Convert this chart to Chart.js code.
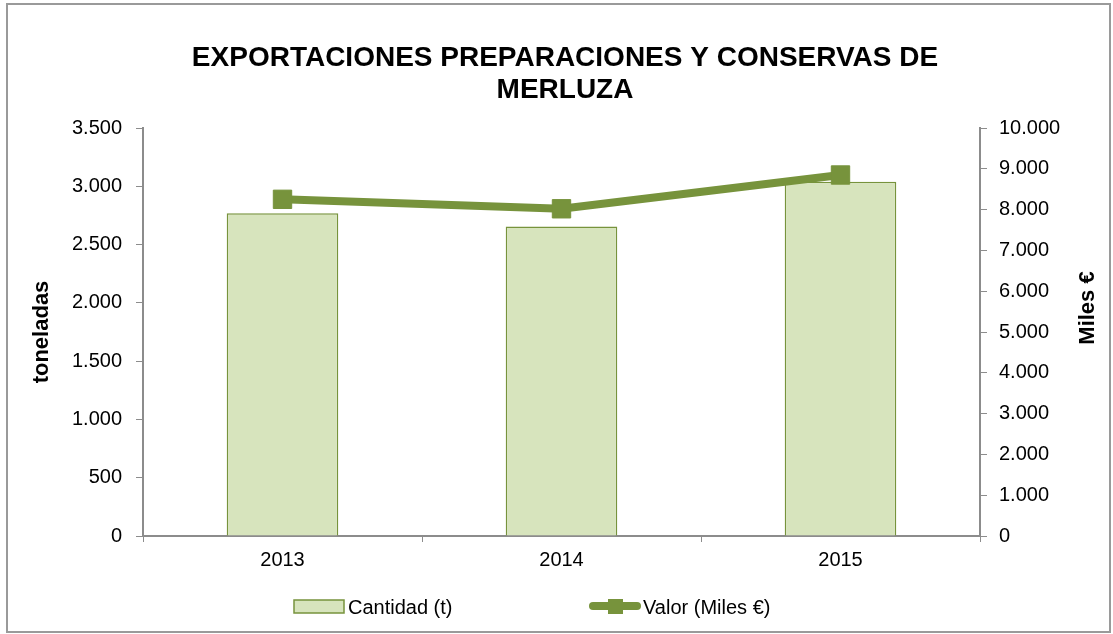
<!DOCTYPE html>
<html>
<head>
<meta charset="utf-8">
<script src="https://cdn.jsdelivr.net/npm/chart.js@4/dist/chart.umd.min.js"></script>
<style>
  html, body { margin: 0; padding: 0; background: #fff; }
  #wrap { width: 1113px; height: 634px; position: relative; }
</style>
</head>
<body>
<div id="wrap"><canvas id="chart"></canvas></div>
<script>
// datos
const years = ["2013", "2014", "2015"];
const cantidad = [2768, 2654, 3039];      // toneladas
const valor = [8252, 8020, 8848];         // miles de euros
const titleLines = ["EXPORTACIONES PREPARACIONES Y CONSERVAS DE", "MERLUZA"];
const seriesNames = ["Cantidad (t)", "Valor (Miles €)"];

const barFill = "#d7e4bd";
const green = "#77933c";
const axisGray = "#8c8c8c";
const fontFam = "'Liberation Sans', Arial, sans-serif";

function fmt(v) {
  return v.toString().replace(/\B(?=(\d{3})+(?!\d))/g, ".");
}

// marco, titulo, titulo derecho y leyenda
const extras = {
  id: "extras",
  afterDraw(chart) {
    const ctx = chart.ctx;
    ctx.save();
    ctx.strokeStyle = "#9a9a9a";
    ctx.lineWidth = 2;
    ctx.strokeRect(7, 4, 1103, 628);

    ctx.fillStyle = "#000";
    ctx.font = "bold 28px " + fontFam;
    ctx.textAlign = "center";
    ctx.textBaseline = "middle";
    ctx.fillText(titleLines[0], 565, 58);
    ctx.fillText(titleLines[1], 565, 90);

    ctx.save();
    ctx.translate(1088, 308);
    ctx.rotate(-Math.PI / 2);
    ctx.font = "bold 22px " + fontFam;
    ctx.fillText("Miles €", 0, 0);
    ctx.restore();

    // leyenda
    ctx.font = "20px " + fontFam;
    ctx.textAlign = "left";
    ctx.fillStyle = barFill;
    ctx.fillRect(294, 600, 50, 13);
    ctx.strokeStyle = green;
    ctx.lineWidth = 1.5;
    ctx.strokeRect(294, 600, 50, 13);
    ctx.fillStyle = "#000";
    ctx.fillText(seriesNames[0], 348, 608);

    ctx.strokeStyle = green;
    ctx.lineWidth = 8;
    ctx.lineCap = "round";
    ctx.beginPath();
    ctx.moveTo(593, 606);
    ctx.lineTo(637, 606);
    ctx.stroke();
    ctx.fillStyle = green;
    ctx.fillRect(608, 599, 15, 15);
    ctx.fillStyle = "#000";
    ctx.fillText(seriesNames[1], 643, 608);
    ctx.restore();
  }
};

new Chart(document.getElementById("chart"), {
  data: {
    labels: years,
    datasets: [
      {
        type: "line",
        label: seriesNames[1],
        data: valor,
        yAxisID: "y1",
        borderColor: green,
        backgroundColor: green,
        borderWidth: 8,
        pointStyle: "rect",
        pointRadius: 13,
        pointBorderWidth: 1,
        pointBorderColor: green,
        pointBackgroundColor: green,
        tension: 0,
        order: 0
      },
      {
        type: "bar",
        label: seriesNames[0],
        data: cantidad,
        yAxisID: "y",
        backgroundColor: barFill,
        borderColor: green,
        borderWidth: 1.5,
        categoryPercentage: 1,
        barPercentage: 0.4,
        order: 1
      }
    ]
  },
  options: {
    responsive: true,
    maintainAspectRatio: false,
    animation: false,
    layout: { padding: { top: 128, left: 0, right: 0, bottom: 0 } },
    plugins: {
      legend: { display: false },
      title: { display: false },
      tooltip: { enabled: false }
    },
    scales: {
      x: {
        afterFit: (s) => { s.height = 98; },
        grid: { drawOnChartArea: false, color: axisGray, tickLength: 6, offset: true },
        border: { color: axisGray, width: 2 },
        ticks: { color: "#000", font: { family: fontFam, size: 20 }, padding: 6 }
      },
      y: {
        position: "left",
        min: 0,
        max: 3500,
        afterFit: (s) => { s.width = 143; },
        grid: { drawOnChartArea: false, color: axisGray, tickLength: 7 },
        border: { color: axisGray, width: 2 },
        ticks: {
          stepSize: 500,
          color: "#000",
          padding: 14,
          font: { family: fontFam, size: 20 },
          callback: (v) => fmt(v)
        },
        title: {
          display: true,
          text: "toneladas",
          color: "#000",
          font: { family: fontFam, size: 22, weight: "bold" },
          padding: { top: 29, bottom: 0 }
        }
      },
      y1: {
        position: "right",
        min: 0,
        max: 10000,
        afterFit: (s) => { s.width = 133; },
        grid: { drawOnChartArea: false, color: axisGray, tickLength: 7 },
        border: { color: axisGray, width: 2 },
        ticks: {
          stepSize: 1000,
          color: "#000",
          padding: 12,
          font: { family: fontFam, size: 20 },
          callback: (v) => fmt(v)
        }
      }
    }
  },
  plugins: [extras]
});
</script>
</body>
</html>
